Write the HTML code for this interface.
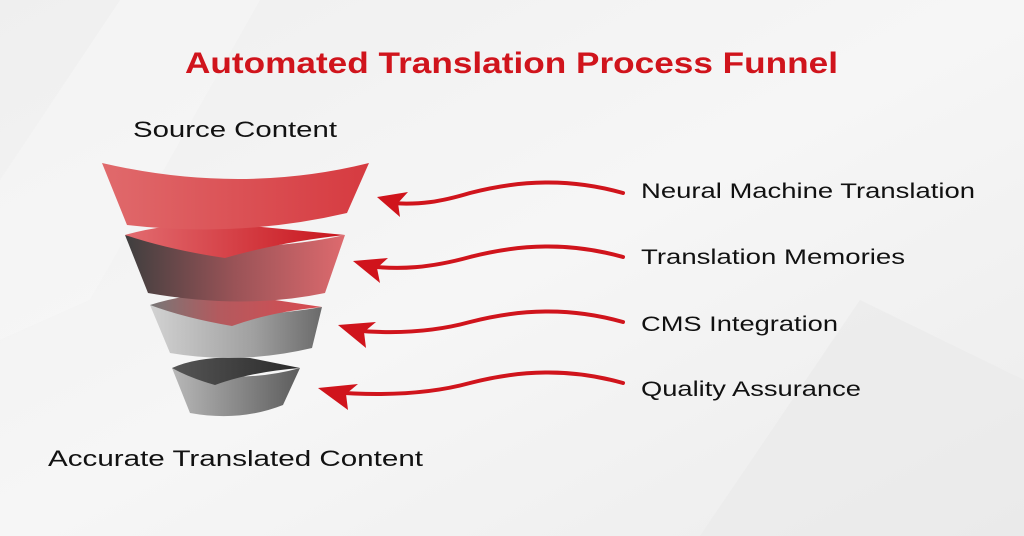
<!DOCTYPE html>
<html><head><style>
html,body{margin:0;padding:0;width:1024px;height:536px;overflow:hidden;background:#f2f2f2;}
svg{display:block}
text{font-family:"Liberation Sans",sans-serif;}
</style></head><body>
<svg width="1024" height="536" viewBox="0 0 1024 536" xmlns="http://www.w3.org/2000/svg">
<defs>
<linearGradient id="bg" x1="0" y1="0" x2="1" y2="1">
<stop offset="0" stop-color="#efefef"/><stop offset="0.5" stop-color="#f6f6f6"/><stop offset="1" stop-color="#ececec"/>
</linearGradient>
<linearGradient id="r1" x1="0" x2="1"><stop offset="0" stop-color="#e06a6c"/><stop offset="1" stop-color="#d63a40"/></linearGradient>
<linearGradient id="b2" x1="0" x2="1"><stop offset="0" stop-color="#3e3e3e"/><stop offset="0.5" stop-color="#9a5357"/><stop offset="1" stop-color="#de6a6e"/></linearGradient>
<linearGradient id="rb" x1="0" x2="1"><stop offset="0" stop-color="#e26c70"/><stop offset="1" stop-color="#c8141c"/></linearGradient>
<linearGradient id="g3" x1="0" x2="1"><stop offset="0" stop-color="#d2d2d2"/><stop offset="0.6" stop-color="#a0a0a0"/><stop offset="1" stop-color="#6a6a6a"/></linearGradient>
<linearGradient id="rb2" x1="0" x2="1"><stop offset="0" stop-color="#777"/><stop offset="0.4" stop-color="#b35a5e"/><stop offset="1" stop-color="#d94a50"/></linearGradient>
<linearGradient id="g4" x1="0" x2="1"><stop offset="0" stop-color="#b8b8b8"/><stop offset="1" stop-color="#5c5c5c"/></linearGradient>
<linearGradient id="d4" x1="0" x2="1"><stop offset="0" stop-color="#555"/><stop offset="1" stop-color="#2a2a2a"/></linearGradient>
</defs>
<rect width="1024" height="536" fill="url(#bg)"/>
<polygon points="0,180 120,0 260,0 90,300 0,340" fill="#f7f7f7" opacity="0.6"/>
<polygon points="700,536 860,300 1024,380 1024,536" fill="#e9e9e9" opacity="0.6"/>

<text x="185" y="73" font-size="30" font-weight="bold" fill="#d0141c" textLength="653" lengthAdjust="spacingAndGlyphs">Automated Translation Process Funnel</text>
<text x="133" y="137" font-size="22" fill="#111" textLength="204" lengthAdjust="spacingAndGlyphs">Source Content</text>
<text x="48" y="466" font-size="22" fill="#111" textLength="375" lengthAdjust="spacingAndGlyphs">Accurate Translated Content</text>
<text x="641" y="198" font-size="21" fill="#111" textLength="334" lengthAdjust="spacingAndGlyphs">Neural Machine Translation</text>
<text x="641" y="264" font-size="21" fill="#111" textLength="264" lengthAdjust="spacingAndGlyphs">Translation Memories</text>
<text x="641" y="331" font-size="21" fill="#111" textLength="197" lengthAdjust="spacingAndGlyphs">CMS Integration</text>
<text x="641" y="396" font-size="21" fill="#111" textLength="220" lengthAdjust="spacingAndGlyphs">Quality Assurance</text>

<!-- funnel -->
<!-- band 4 -->
<path d="M172,368 Q240,385 300,368 L283,405 Q240,422 190,413 Z" fill="url(#g4)"/>
<path d="M172,368 Q200,355 250,358 L300,368 Q250,372 215,385 Q190,378 172,368 Z" fill="url(#d4)"/>
<!-- band 3 -->
<path d="M150,305 Q240,322 322,307 L312,348 Q240,365 170,353 Z" fill="url(#g3)"/>
<path d="M150,305 Q190,292 235,294 L322,307 Q270,312 232,326 Q185,318 150,305 Z" fill="url(#rb2)"/>
<!-- band 2 -->
<path d="M125,235 Q240,258 345,235 L325,293 Q245,310 148,293 Z" fill="url(#b2)"/>
<path d="M125,235 Q170,222 230,224 L345,235 Q280,242 225,258 Q170,250 125,235 Z" fill="url(#rb)"/>
<!-- band 1 -->
<path d="M102,163 Q240,195 369,163 L347,213 Q240,238 127,225 Z" fill="url(#r1)"/>

<!-- arrows -->
<g fill="none" stroke="#d0141c" stroke-width="4" stroke-linecap="round">
<path d="M623,193 C570,178 520,180 470,193 C440,202 420,205 390,203"/>
<path d="M623,257 C570,242 520,244 470,257 C430,268 400,270 366,266"/>
<path d="M623,322 C570,307 520,309 470,322 C430,333 390,334 350,330"/>
<path d="M623,383 C570,368 520,370 470,383 C430,394 380,396 330,392"/>
</g>
<g fill="#d0141c">
<polygon points="377,197 408,192 398,203 400,217"/>
<polygon points="353,261 388,258 377,268 380,283"/>
<polygon points="338,325 376,322 364,332 366,348"/>
<polygon points="318,388 358,384 346,394 348,410"/>
</g>
</svg>
</body></html>
